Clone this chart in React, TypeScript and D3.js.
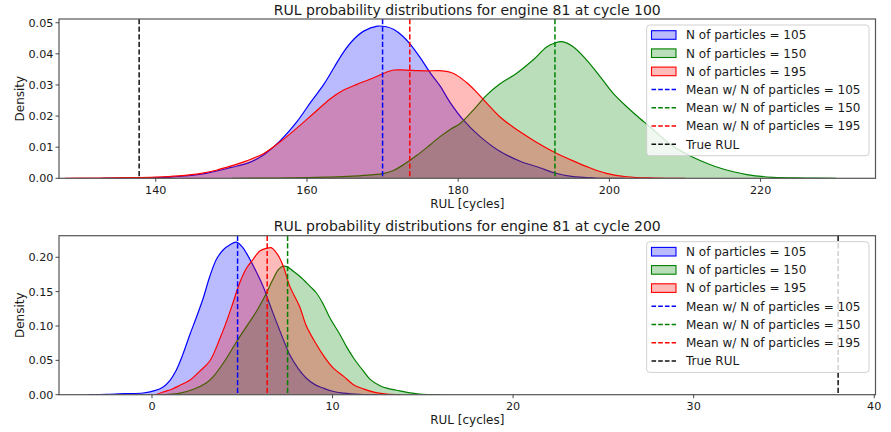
import React from "react";
import * as d3 from "d3";

// ---------- data ----------
const seriesLabels = ["N of particles = 105", "N of particles = 150", "N of particles = 195"];
const meanLabels = ["Mean w/ N of particles = 105", "Mean w/ N of particles = 150", "Mean w/ N of particles = 195"];
const trueLabel = "True RUL";
const colors = ["blue", "green", "red"];

// Panel 1: engine 81 at cycle 100
const title1 = "RUL probability distributions for engine 81 at cycle 100";
const kde1_105: [number, number][] = [
  [133, 0], [138, 0.0001], [142, 0.0004], [146, 0.0013], [150, 0.0035], [152.5, 0.0052], [154.3, 0.0076],
  [156.5, 0.0122], [158.7, 0.0183], [160.5, 0.0245], [162.2, 0.0301], [163.6, 0.0357], [164.9, 0.0408],
  [166.2, 0.0447], [167.5, 0.0473], [169.3, 0.0489], [170.5, 0.0487], [171.5, 0.0478], [172.6, 0.0458],
  [173.7, 0.043], [175, 0.0387], [176.3, 0.0339], [177.6, 0.0297], [178.9, 0.0245], [180.7, 0.0187],
  [182.9, 0.0134], [185.5, 0.0087], [188.2, 0.0055], [190.8, 0.0034], [192.8, 0.0017], [195, 0.0006],
  [198, 0.0001], [202, 0],
];
const kde1_150: [number, number][] = [
  [150, 0], [156, 0.0001], [160, 0.0002], [163.1, 0.0004], [166, 0.0007], [168.5, 0.0011], [170.2, 0.0016],
  [171.5, 0.0026], [172.8, 0.0044], [174.5, 0.0073], [176.3, 0.0108], [177.6, 0.0134], [179, 0.0158],
  [180.3, 0.0177], [182, 0.0219], [183.8, 0.0268], [185.5, 0.0303], [187.7, 0.0337], [189.9, 0.038],
  [191.7, 0.0422], [192.8, 0.0435], [193.7, 0.0439], [195.2, 0.0423], [197, 0.038], [198.8, 0.0326],
  [200.5, 0.0273], [202.3, 0.023], [204, 0.0193], [205.4, 0.0165], [207, 0.013], [208.5, 0.0102],
  [210.2, 0.0078], [212, 0.0057], [214, 0.0038], [216.4, 0.0021], [218.2, 0.0012], [221.6, 0.0003],
  [226, 0.0001], [230, 0],
];
const kde1_195: [number, number][] = [
  [128, 0], [132, 0.0001], [136, 0.0002], [140, 0.0004], [143, 0.0008], [146, 0.0016], [148, 0.0026],
  [150, 0.004], [152, 0.0056], [154.3, 0.008], [156.5, 0.0118], [158.7, 0.0162], [160.9, 0.0209],
  [163.1, 0.0256], [164.8, 0.0283], [166.6, 0.0302], [168, 0.0315], [169.3, 0.0328], [170.5, 0.0341],
  [171.5, 0.0348], [173, 0.0348], [174.6, 0.0346], [176, 0.0345], [177.6, 0.0346], [179.4, 0.0337],
  [181.1, 0.0308], [182.4, 0.0278], [183.8, 0.0241], [185.5, 0.0198], [187.3, 0.0164], [189.5, 0.0129],
  [191.2, 0.0104], [192.8, 0.0083], [195.2, 0.0056], [197.4, 0.0034], [199.6, 0.0016], [202.3, 0.0005],
  [206, 0.0001], [210, 0],
];
const means1 = [170.0, 192.8, 173.6];
const trueRul1 = 137.8;
const xTicks1 = [140, 160, 180, 200, 220];
const yTicks1 = [0, 0.01, 0.02, 0.03, 0.04, 0.05];

// Panel 2: engine 81 at cycle 200
const title2 = "RUL probability distributions for engine 81 at cycle 200";
const kde2_105: [number, number][] = [
  [-3.5, 0], [-2.5, 0.0005], [-1.5, 0.0015], [-0.5, 0.0025], [0.1, 0.0055], [0.6, 0.011], [1, 0.021],
  [1.35, 0.036], [1.7, 0.058], [2.09, 0.087], [2.45, 0.112], [2.83, 0.14], [3.2, 0.172], [3.57, 0.197],
  [3.95, 0.211], [4.3, 0.218], [4.68, 0.222], [5.0, 0.215], [5.23, 0.206], [5.7, 0.183], [6.15, 0.158],
  [6.5, 0.133], [6.89, 0.106], [7.25, 0.082], [7.63, 0.058], [8.1, 0.038], [8.55, 0.024], [9.0, 0.015],
  [9.47, 0.0097], [10.0, 0.005], [10.6, 0.0024], [11.5, 0.0006], [12.5, 0],
];
const kde2_150: [number, number][] = [
  [0.5, 0], [1.5, 0.002], [2.3, 0.008], [3.0, 0.017], [3.38, 0.026], [4.0, 0.048], [4.68, 0.077],
  [5.2, 0.098], [5.78, 0.121], [6.34, 0.148], [6.7, 0.168], [7.0, 0.182], [7.26, 0.187], [7.5, 0.186],
  [7.81, 0.18], [8.2, 0.172], [8.74, 0.158], [9.11, 0.148], [9.5, 0.131], [9.85, 0.112], [10.4, 0.088],
  [10.77, 0.07], [11.2, 0.052], [11.69, 0.035], [12.1, 0.022], [12.6, 0.0135], [13.0, 0.0095],
  [13.54, 0.0065], [14.2, 0.003], [14.8, 0.001], [16, 0],
];
const kde2_195: [number, number][] = [
  [0.2, 0], [0.61, 0.004], [1.1, 0.008], [1.53, 0.0135], [2.09, 0.021], [2.64, 0.034], [3.2, 0.049],
  [3.75, 0.081], [4.12, 0.106], [4.5, 0.135], [4.86, 0.163], [5.23, 0.184], [5.6, 0.197], [5.97, 0.209],
  [6.34, 0.213], [6.6, 0.214], [6.85, 0.208], [7.07, 0.199], [7.3, 0.185], [7.63, 0.158], [8.18, 0.128],
  [8.55, 0.1], [9.11, 0.073], [9.47, 0.058], [10.03, 0.039], [10.6, 0.027], [11.14, 0.015], [11.7, 0.0085],
  [12.4, 0.003], [13, 0.0008], [13.8, 0],
];
const means2 = [4.74, 7.51, 6.38];
const trueRul2 = 38.0;
const xTicks2 = [0, 10, 20, 30, 40];
const yTicks2 = [0, 0.05, 0.1, 0.15, 0.2];

const xLabel = "RUL [cycles]";
const yLabel = "Density";

// ---------- layout ----------
const W = 891;
const H = 432;
const FONT = "DejaVu Sans, sans-serif";
const TEXT = "#1a1a1a";

type PanelProps = {
  title: string;
  curves: [number, number][][];
  means: number[];
  trueRul: number;
  xTicks: number[];
  yTicks: number[];
  xDomain: [number, number];
  yMax: number;
  top: number;
  bottom: number;
  titleY: number;
  legendTop: number;
};

const LEFT = 59;
const RIGHT = 875.5;

function Panel(p: PanelProps) {
  const x = d3.scaleLinear().domain(p.xDomain).range([LEFT, RIGHT]);
  const y = d3.scaleLinear().domain([0, p.yMax]).range([p.bottom, p.top]);
  const curve = d3.curveCatmullRom.alpha(0.5);
  const area = d3
    .area<[number, number]>()
    .x((d) => x(d[0]))
    .y0(y(0))
    .y1((d) => y(d[1]))
    .curve(curve);
  const line = d3
    .line<[number, number]>()
    .x((d) => x(d[0]))
    .y((d) => y(d[1]))
    .curve(curve);
  const cx = (LEFT + RIGHT) / 2;
  const clipId = `clip-${Math.round(p.top)}`;
  const lg = { x: 646.7, y: p.legendTop, w: 222.3, h: 130.7 };
  const rowY = (i: number) => lg.y + 10 + i * 18.2;
  const dash = "5.2,2.4";

  return (
    <g>
      <defs>
        <clipPath id={clipId}>
          <rect x={LEFT} y={p.top} width={RIGHT - LEFT} height={p.bottom - p.top} />
        </clipPath>
      </defs>
      <g clipPath={`url(#${clipId})`}>
        {p.curves.map((c, i) => (
          <g key={i}>
            <path d={area(c) || ""} fill={colors[i]} fillOpacity={0.27} stroke="none" />
            <path d={line(c) || ""} fill="none" stroke={colors[i]} strokeWidth={1.2} />
          </g>
        ))}
        {p.means.map((m, i) => (
          <line key={i} x1={x(m)} x2={x(m)} y1={p.top} y2={p.bottom} stroke={colors[i]} strokeWidth={1.5} strokeDasharray={dash} />
        ))}
        <line x1={x(p.trueRul)} x2={x(p.trueRul)} y1={p.top} y2={p.bottom} stroke="#111" strokeWidth={1.5} strokeDasharray={dash} />
      </g>
      {/* spines */}
      <rect x={LEFT} y={p.top} width={RIGHT - LEFT} height={p.bottom - p.top} fill="none" stroke="#555" strokeWidth={1.2} />
      {/* x ticks */}
      {p.xTicks.map((t) => (
        <g key={t}>
          <line x1={x(t)} x2={x(t)} y1={p.bottom} y2={p.bottom + 3.5} stroke="#333" strokeWidth={0.9} />
          <text x={x(t)} y={p.bottom + 15.2} textAnchor="middle" fontSize={11.2} fill={TEXT} fontFamily={FONT}>
            {t}
          </text>
        </g>
      ))}
      {/* y ticks */}
      {p.yTicks.map((t) => (
        <g key={t}>
          <line x1={LEFT - 3.5} x2={LEFT} y1={y(t)} y2={y(t)} stroke="#333" strokeWidth={0.9} />
          <text x={LEFT - 5.6} y={y(t) + 4} textAnchor="end" fontSize={11.2} fill={TEXT} fontFamily={FONT}>
            {d3.format(".2f")(t)}
          </text>
        </g>
      ))}
      <text x={cx} y={p.bottom + 29.2} textAnchor="middle" fontSize={12} fill={TEXT} fontFamily={FONT}>
        {xLabel}
      </text>
      <text
        transform={`translate(24,${(p.top + p.bottom) / 2}) rotate(-90)`}
        textAnchor="middle"
        fontSize={12}
        fill={TEXT}
        fontFamily={FONT}
      >
        {yLabel}
      </text>
      <text x={cx} y={p.titleY} textAnchor="middle" fontSize={14} fill={TEXT} fontFamily={FONT}>
        {p.title}
      </text>
      {/* legend */}
      <g>
        <rect x={lg.x} y={lg.y} width={lg.w} height={lg.h} rx={3} fill="white" fillOpacity={0.8} stroke="#cccccc" strokeWidth={0.9} />
        {seriesLabels.map((s, i) => (
          <g key={s}>
            <rect x={651.5} y={rowY(i) - 4.3} width={24.5} height={8.6} fill={colors[i]} fillOpacity={0.27} stroke={colors[i]} strokeWidth={1.1} />
            <text x={686} y={rowY(i) + 4.3} fontSize={12} fill={TEXT} fontFamily={FONT}>
              {s}
            </text>
          </g>
        ))}
        {meanLabels.map((s, i) => (
          <g key={s}>
            <line x1={651.5} x2={676} y1={rowY(i + 3)} y2={rowY(i + 3)} stroke={colors[i]} strokeWidth={1.5} strokeDasharray="4.6,2.1" />
            <text x={686} y={rowY(i + 3) + 4.3} fontSize={12} fill={TEXT} fontFamily={FONT}>
              {s}
            </text>
          </g>
        ))}
        <line x1={651.5} x2={676} y1={rowY(6)} y2={rowY(6)} stroke="#111" strokeWidth={1.5} strokeDasharray="4.6,2.1" />
        <text x={686} y={rowY(6) + 4.3} fontSize={12} fill={TEXT} fontFamily={FONT}>
          {trueLabel}
        </text>
      </g>
    </g>
  );
}

export default function App() {
  return (
    <svg
      width={W}
      height={H}
      viewBox={`0 0 ${W} ${H}`}
      style={{ position: "absolute", left: 0, top: 0, background: "white" }}
    >
      <rect x={0} y={0} width={W} height={H} fill="white" />
      <Panel
        title={title1}
        curves={[kde1_105, kde1_150, kde1_195]}
        means={means1}
        trueRul={trueRul1}
        xTicks={xTicks1}
        yTicks={yTicks1}
        xDomain={[127.2, 235.2]}
        yMax={0.0512}
        top={19}
        bottom={178.3}
        titleY={14.5}
        legendTop={25}
      />
      <Panel
        title={title2}
        curves={[kde2_105, kde2_150, kde2_195]}
        means={means2}
        trueRul={trueRul2}
        xTicks={xTicks2}
        yTicks={yTicks2}
        xDomain={[-5.15, 40.07]}
        yMax={0.2314}
        top={235.7}
        bottom={394.7}
        titleY={230.5}
        legendTop={241.7}
      />
    </svg>
  );
}
